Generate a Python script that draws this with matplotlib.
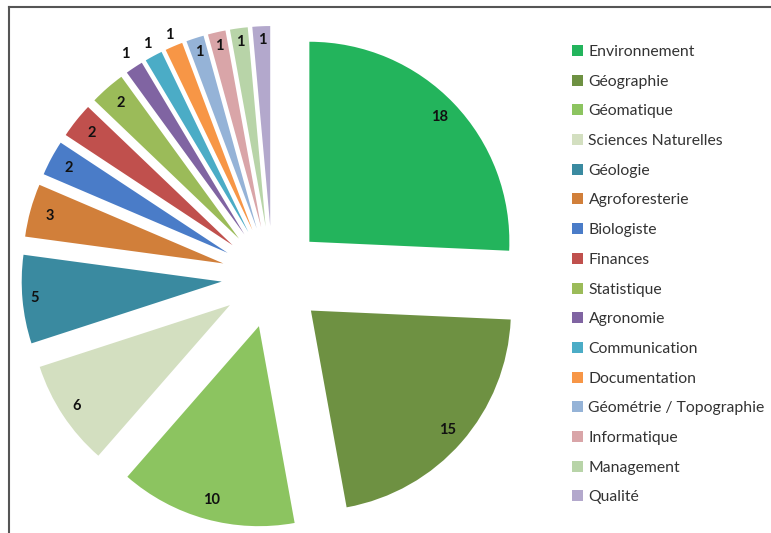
import matplotlib
matplotlib.use("Agg")
import matplotlib.pyplot as plt
import numpy as np
from matplotlib.lines import Line2D

categories = ["Environnement", "Géographie", "Géomatique", "Sciences Naturelles",
              "Géologie", "Agroforesterie", "Biologiste", "Finances", "Statistique",
              "Agronomie", "Communication", "Documentation", "Géométrie / Topographie",
              "Informatique", "Management", "Qualité"]
values = [18, 15, 10, 6, 5, 3, 2, 2, 2, 1, 1, 1, 1, 1, 1, 1]
colors = ["#23B45C", "#6E9142", "#8CC460", "#D3DFC0", "#3A8AA0", "#D17F3A",
          "#4A7CC8", "#C0504D", "#9BBB59", "#8064A2", "#4BACC6", "#F79646",
          "#95B3D7", "#D9A5A8", "#B8D4A8", "#B3A8CC"]
label_dist = [0.9, 0.91, 0.9, 0.92, 0.94, 0.9, 0.9, 0.9, 0.9,
              1.08, 1.07, 1.06, 0.93, 0.93, 0.93, 0.93]

plt.rcParams['font.family'] = ['Lato', 'DejaVu Sans']

W, H = 771, 533
fig = plt.figure(figsize=(W / 100, H / 100), dpi=100)
fig.patch.set_facecolor("white")
ax = fig.add_axes([0, 0, 1, 1])

R = 200
cx, cy = 272.5, H - 277
wedges, _ = ax.pie(values, colors=colors, startangle=90, counterclock=False,
                   radius=R, center=(cx, cy), explode=[51] * len(values),
                   wedgeprops=dict(linewidth=0))
ax.set_xlim(0, W)
ax.set_ylim(0, H)
ax.set_aspect('equal')
ax.axis('off')

for w, v, d in zip(wedges, values, label_dist):
    mid = np.deg2rad((w.theta1 + w.theta2) / 2)
    x0, y0 = w.center
    ax.text(x0 + d * w.r * np.cos(mid), y0 + d * w.r * np.sin(mid), str(v),
            ha='center', va='center', fontsize=10.5, fontweight='bold', color='#111111')

leg = fig.legend(wedges, categories, loc='upper left',
                 bbox_to_anchor=(572 / W, 1 - 45 / H), frameon=False,
                 fontsize=11.3, handlelength=0.7, handleheight=0.7,
                 labelspacing=1.0, handletextpad=0.35, borderaxespad=0,
                 borderpad=0)
for t in leg.get_texts():
    t.set_color('#333333')

fig.add_artist(Line2D([9 / W, 9 / W], [0, 1 - 7 / H], transform=fig.transFigure,
                      color='#555555', lw=1.5))
fig.add_artist(Line2D([9 / W, 1], [1 - 7 / H, 1 - 7 / H], transform=fig.transFigure,
                      color='#555555', lw=1.5))

fig.savefig("out.png", dpi=100)
